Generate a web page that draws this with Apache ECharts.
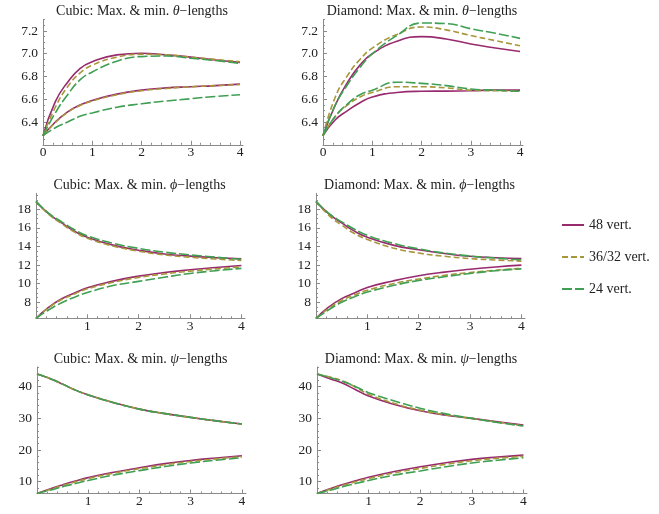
<!DOCTYPE html>
<html>
<head>
<meta charset="utf-8">
<script src="https://cdn.jsdelivr.net/npm/echarts@6/dist/echarts.min.js"></script>
<style>
html, body { margin: 0; padding: 0; background: #fff; }
#main { width: 659px; height: 514px; }
</style>
</head>
<body>
<div id="main"></div>
<script>
// x positions the curves were read at
const xs = [0, 0.25, 0.5, 0.75, 1, 1.5, 2, 2.5, 3, 3.5, 4];
const seriesNames = ['48 vert.', '36/32 vert.', '24 vert.'];

// Cubic: theta
const cubicThetaMax48 = [6.28, 6.58, 6.75, 6.87, 6.93, 6.99, 7.005, 6.99, 6.97, 6.945, 6.924];
const cubicThetaMax36 = [6.28, 6.53, 6.71, 6.83, 6.90, 6.97, 6.995, 6.99, 6.97, 6.95, 6.93];
const cubicThetaMax24 = [6.28, 6.48, 6.64, 6.77, 6.84, 6.935, 6.975, 6.98, 6.96, 6.94, 6.915];
const cubicThetaMin48 = [6.28, 6.40, 6.49, 6.55, 6.59, 6.645, 6.68, 6.70, 6.71, 6.72, 6.733];
const cubicThetaMin36 = [6.28, 6.395, 6.485, 6.545, 6.585, 6.64, 6.675, 6.695, 6.71, 6.72, 6.73];
const cubicThetaMin24 = [6.28, 6.35, 6.40, 6.45, 6.48, 6.53, 6.56, 6.585, 6.605, 6.625, 6.64];

// Diamond: theta
const diamThetaMax48 = [6.28, 6.55, 6.75, 6.90, 7.00, 7.11, 7.15, 7.13, 7.085, 7.05, 7.02];
const diamThetaMax36 = [6.28, 6.62, 6.81, 6.95, 7.05, 7.17, 7.235, 7.21, 7.16, 7.115, 7.07];
const diamThetaMax24 = [6.28, 6.55, 6.73, 6.88, 7.00, 7.16, 7.27, 7.265, 7.22, 7.18, 7.135];
const diamThetaMin48 = [6.28, 6.42, 6.50, 6.57, 6.62, 6.66, 6.67, 6.672, 6.675, 6.68, 6.68];
const diamThetaMin36 = [6.28, 6.45, 6.55, 6.62, 6.66, 6.71, 6.71, 6.70, 6.68, 6.675, 6.67];
const diamThetaMin24 = [6.28, 6.45, 6.56, 6.64, 6.68, 6.75, 6.74, 6.72, 6.69, 6.68, 6.67];

// Cubic: phi
const cubicPhiMax48 = [18.85, 17.5, 16.55, 15.65, 15.0, 14.15, 13.6, 13.2, 12.97, 12.8, 12.68];
const cubicPhiMax36 = [18.85, 17.45, 16.45, 15.55, 14.9, 14.05, 13.5, 13.1, 12.85, 12.65, 12.5];
const cubicPhiMax24 = [18.85, 17.55, 16.65, 15.8, 15.15, 14.35, 13.8, 13.4, 13.1, 12.85, 12.62];
const cubicPhiMin48 = [6.28, 7.48, 8.38, 9.0, 9.56, 10.28, 10.82, 11.2, 11.5, 11.75, 11.96];
const cubicPhiMin36 = [6.28, 7.42, 8.3, 8.9, 9.45, 10.15, 10.68, 11.05, 11.35, 11.6, 11.8];
const cubicPhiMin24 = [6.28, 7.2, 7.95, 8.55, 9.05, 9.8, 10.25, 10.7, 11.1, 11.4, 11.65];

// Diamond: phi
const diamPhiMax48 = [18.85, 17.5, 16.55, 15.65, 15.0, 14.15, 13.65, 13.25, 12.95, 12.8, 12.7];
const diamPhiMax36 = [18.85, 17.35, 16.3, 15.4, 14.76, 13.85, 13.3, 12.95, 12.7, 12.55, 12.43];
const diamPhiMax24 = [18.85, 17.55, 16.65, 15.85, 15.2, 14.35, 13.75, 13.3, 12.98, 12.75, 12.57];
const diamPhiMin48 = [6.28, 7.5, 8.4, 9.0, 9.6, 10.3, 10.85, 11.25, 11.55, 11.8, 12.0];
const diamPhiMin36 = [6.28, 7.35, 8.2, 8.8, 9.3, 10.0, 10.5, 10.9, 11.2, 11.45, 11.65];
const diamPhiMin24 = [6.28, 7.2, 8.0, 8.6, 9.1, 9.8, 10.35, 10.75, 11.1, 11.4, 11.6];

// Cubic: psi
const cubicPsiMax48 = [44.0, 42.6, 40.8, 38.9, 37.4, 34.95, 32.9, 31.5, 30.3, 29.2, 28.2];
const cubicPsiMax36 = [44.0, 42.6, 40.8, 38.9, 37.4, 34.95, 32.9, 31.5, 30.3, 29.2, 28.2];
const cubicPsiMax24 = [44.0, 42.6, 40.8, 38.9, 37.4, 34.95, 32.9, 31.5, 30.3, 29.2, 28.2];
const cubicPsiMin48 = [6.28, 7.7, 9.0, 10.2, 11.3, 13.0, 14.4, 15.7, 16.7, 17.5, 18.2];
const cubicPsiMin36 = [6.28, 7.55, 8.8, 9.95, 11.0, 12.7, 14.1, 15.35, 16.4, 17.2, 17.9];
const cubicPsiMin24 = [6.28, 7.3, 8.4, 9.45, 10.4, 12.1, 13.5, 14.8, 15.9, 16.8, 17.55];

// Diamond: psi
const diamPsiMax48 = [44.0, 42.5, 41.05, 39.0, 37.05, 34.4, 32.4, 31.0, 30.0, 28.9, 27.9];
const diamPsiMax36 = [44.0, 43.0, 41.8, 39.8, 37.6, 34.7, 32.6, 31.1, 30.0, 28.8, 27.6];
const diamPsiMax24 = [44.0, 42.9, 41.6, 40.0, 38.1, 35.5, 33.2, 31.4, 30.0, 28.7, 27.6];
const diamPsiMin48 = [6.28, 7.75, 9.1, 10.3, 11.4, 13.2, 14.7, 16.0, 17.05, 17.8, 18.4];
const diamPsiMin36 = [6.28, 7.6, 8.85, 10.0, 11.0, 12.8, 14.2, 15.5, 16.6, 17.4, 18.0];
const diamPsiMin24 = [6.28, 7.3, 8.4, 9.45, 10.4, 12.1, 13.4, 14.75, 15.9, 16.8, 17.55];

// tick labels
const xTicksTheta = [0, 1, 2, 3, 4];
const xTicksOther = [1, 2, 3, 4];
const thetaTicks = [6.4, 6.6, 6.8, 7.0, 7.2];
const phiTicks = [8, 10, 12, 14, 16, 18];
const psiTicks = [10, 20, 30, 40];

const colors = ['#982a6e', '#a8963a', '#3f9f52'];
const dashes = ['solid', [6, 3], [10, 3]];
const font = 'Liberation Serif';

function steps(from, to, step) {
  const out = [];
  for (let v = from; v <= to + 1e-9; v += step) out.push(+v.toFixed(4));
  return out;
}

const panels = [
  { name: 'Cubic', sym: 'θ', left: 43, top: 19.6, width: 200, height: 125.2, xMax: 4.06,
    yMin: 6.2, yMax: 7.3, yTicks: thetaTicks, yMinorStep: 0.05, xTicks: xTicksTheta, dec: 1,
    max: [cubicThetaMax48, cubicThetaMax36, cubicThetaMax24], min: [cubicThetaMin48, cubicThetaMin36, cubicThetaMin24] },
  { name: 'Diamond', sym: 'θ', left: 323, top: 19.6, width: 200, height: 125.2, xMax: 4.06,
    yMin: 6.2, yMax: 7.3, yTicks: thetaTicks, yMinorStep: 0.05, xTicks: xTicksTheta, dec: 1,
    max: [diamThetaMax48, diamThetaMax36, diamThetaMax24], min: [diamThetaMin48, diamThetaMin36, diamThetaMin24] },
  { name: 'Cubic', sym: 'ϕ', left: 36, top: 193.3, width: 209, height: 125, xMax: 4.07,
    yMin: 2 * Math.PI, yMax: 19.72, yTicks: phiTicks, yMinorStep: 0.5, xTicks: xTicksOther, dec: 0,
    max: [cubicPhiMax48, cubicPhiMax36, cubicPhiMax24], min: [cubicPhiMin48, cubicPhiMin36, cubicPhiMin24] },
  { name: 'Diamond', sym: 'ϕ', left: 316, top: 193.3, width: 209, height: 125, xMax: 4.07,
    yMin: 2 * Math.PI, yMax: 19.72, yTicks: phiTicks, yMinorStep: 0.5, xTicks: xTicksOther, dec: 0,
    max: [diamPhiMax48, diamPhiMax36, diamPhiMax24], min: [diamPhiMin48, diamPhiMin36, diamPhiMin24] },
  { name: 'Cubic', sym: 'ψ', left: 37, top: 367, width: 209, height: 126.5, xMax: 4.08,
    yMin: 2 * Math.PI, yMax: 46.2, yTicks: psiTicks, yMinorStep: 2, xTicks: xTicksOther, dec: 0,
    max: [cubicPsiMax48, cubicPsiMax36, cubicPsiMax24], min: [cubicPsiMin48, cubicPsiMin36, cubicPsiMin24] },
  { name: 'Diamond', sym: 'ψ', left: 317, top: 367, width: 210, height: 126.5, xMax: 4.07,
    yMin: 2 * Math.PI, yMax: 46.2, yTicks: psiTicks, yMinorStep: 2, xTicks: xTicksOther, dec: 0,
    max: [diamPsiMax48, diamPsiMax36, diamPsiMax24], min: [diamPsiMin48, diamPsiMin36, diamPsiMin24] }
];

const grid = [], xAxis = [], yAxis = [], series = [], graphic = [];
const axisColor = '#8a8a8a';

panels.forEach((p, g) => {
  grid.push({ left: p.left, top: p.top, width: p.width, height: p.height, outerBoundsMode: 'none' });

  // main axes
  xAxis.push({
    type: 'value', gridIndex: g, min: 0, max: p.xMax, position: 'bottom',
    splitLine: { show: false },
    axisLine: { lineStyle: { color: axisColor, width: 1 } },
    axisTick: { inside: true, length: 4, customValues: p.xTicks, lineStyle: { color: axisColor } },
    axisLabel: { customValues: p.xTicks, margin: 1, fontFamily: font, fontSize: 13.5, color: '#222' }
  });
  yAxis.push({
    type: 'value', gridIndex: g, min: p.yMin, max: p.yMax, position: 'left',
    splitLine: { show: false },
    axisLine: { lineStyle: { color: axisColor, width: 1 } },
    axisTick: { inside: true, length: 4, customValues: p.yTicks, lineStyle: { color: axisColor } },
    axisLabel: { customValues: p.yTicks, margin: 5, fontFamily: font, fontSize: 13.5, color: '#222',
      formatter: v => v.toFixed(p.dec) }
  });
  // minor tick overlays
  xAxis.push({
    type: 'value', gridIndex: g, min: 0, max: p.xMax, position: 'bottom',
    splitLine: { show: false }, axisLine: { show: false }, axisLabel: { show: false },
    axisTick: { inside: true, length: 2, customValues: steps(0.2, 4, 0.2), lineStyle: { color: axisColor } }
  });
  yAxis.push({
    type: 'value', gridIndex: g, min: p.yMin, max: p.yMax, position: 'left',
    splitLine: { show: false }, axisLine: { show: false }, axisLabel: { show: false },
    axisTick: { inside: true, length: 2, lineStyle: { color: axisColor },
      customValues: steps(Math.ceil(p.yMin / p.yMinorStep) * p.yMinorStep, p.yMax, p.yMinorStep) }
  });

  [p.max, p.min].forEach(group => {
    group.forEach((vals, k) => {
      series.push({
        name: seriesNames[k], type: 'line', xAxisIndex: 2 * g, yAxisIndex: 2 * g,
        data: xs.map((x, i) => [x, vals[i]]),
        symbol: 'none', smooth: 0.5, silent: true,
        lineStyle: { color: colors[k], width: 1.6, type: dashes[k] },
        itemStyle: { color: colors[k] },
        z: 2 + k
      });
    });
  });

  graphic.push({
    type: 'text', x: p.left + p.width / 2 - 1, y: p.top - 8,
    style: {
      text: p.name + ': Max. & min. {i|' + p.sym + '}−lengths',
      fontFamily: font, fontSize: 14, fill: '#222', align: 'center', verticalAlign: 'middle',
      rich: { i: { fontFamily: font, fontSize: 14, fontStyle: 'italic', fill: '#222' } }
    }
  });
});

const chart = echarts.init(document.getElementById('main'), null, { renderer: 'canvas' });
chart.setOption({
  animation: false,
  backgroundColor: '#fff',
  grid, xAxis, yAxis, series, graphic,
  legend: {
    data: seriesNames, orient: 'vertical', left: 556, top: 213,
    itemWidth: 22, itemHeight: 14, itemGap: 18,
    itemStyle: { opacity: 0 },
    textStyle: { fontFamily: font, fontSize: 14, color: '#222' }
  }
});
</script>
</body>
</html>
